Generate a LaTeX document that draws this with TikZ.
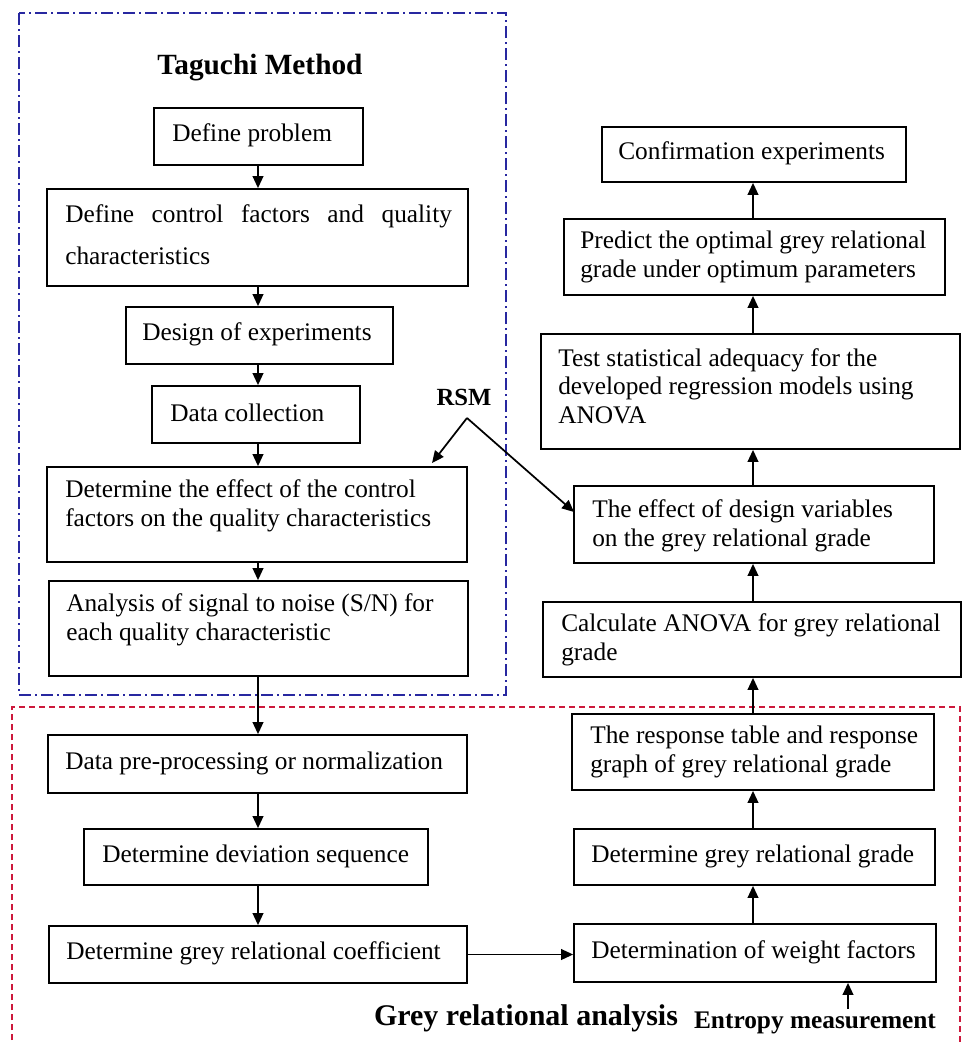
\documentclass[tikz,border=0pt]{standalone}
\usepackage{fontspec}
\setmainfont{Liberation Serif}
\usetikzlibrary{arrows.meta}
\definecolor{tagblue}{RGB}{40,40,160}
\definecolor{grared}{RGB}{205,25,60}
\newcommand\mkbox[5]{\node[boxst, minimum width={(#4-#2)*0.75pt}, minimum height={(#5-#3)*0.75pt}] (#1) at ({(#2+#4)/2},{(#3+#5)/2}) {};}
\begin{document}
\begin{tikzpicture}[x=0.75pt,y=-0.75pt,
  boxst/.style={draw, line width=1.3pt, inner sep=0pt, rectangle},
  txt/.style={anchor=west, align=left, inner sep=0pt, font=\fontsize{19pt}{21.5pt}\selectfont},
  arr/.style={line width=1.3pt, -{Triangle[length=9pt,width=8pt]}},
  heading/.style={font=\bfseries\fontsize{22pt}{26pt}\selectfont, inner sep=2pt},
  bluebox/.style={draw=tagblue, line width=1.4pt, dash pattern=on 9pt off 3pt on 1.5pt off 3pt},
  redbox/.style={draw=grared, line width=1.2pt, dash pattern=on 4.5pt off 3pt}]
\useasboundingbox (0,0) rectangle (967,1042);

% group frames
\draw[bluebox] (19,13) rectangle (506,695);
\draw[redbox] (12,1050) -- (12,707) -- (960,707) -- (960,1050);

% headings
\node[heading] (title) at (260,68) {Taguchi Method};
\node[heading, font=\bfseries\fontsize{22.5pt}{26pt}\selectfont] (gra) at (526,1018) {Grey relational analysis};
\node[heading, font=\bfseries\fontsize{19pt}{22pt}\selectfont] (ent) at (815,1023) {Entropy measurement};
\node[heading, font=\bfseries\fontsize{18.5pt}{22pt}\selectfont] (rsm) at (464,397) {RSM};

% left column boxes
\mkbox{L1}{154}{108}{363}{165}
\mkbox{L2}{47}{189}{468}{286}
\mkbox{L3}{126}{307}{393}{364}
\mkbox{L4}{152}{386}{360}{443}
\mkbox{L5}{47}{467}{467}{562}
\mkbox{L6}{49}{581}{468}{676}
\mkbox{L7}{48}{735}{467}{793}
\mkbox{L8}{84}{829}{428}{885}
\mkbox{L9}{49}{926}{467}{983}

\node[txt] (tL1) at (172,135) {Define problem};
\node[txt, font=\fontsize{19pt}{31.5pt}\selectfont] (tL2) at (65,235) {\makebox[290pt][s]{Define control factors and quality}\\characteristics};
\node[txt] (tL3) at (142,334) {Design of experiments};
\node[txt] (tL4) at (170,413) {Data collection};
\node[txt] (tL5) at (65,506) {Determine the effect of the control\\factors on the quality characteristics};
\node[txt] (tL6) at (66,620) {Analysis of signal to noise (S/N) for\\each quality characteristic};
\node[txt] (tL7) at (65,763) {Data pre-processing or normalization};
\node[txt] (tL8) at (102,856) {Determine deviation sequence};
\node[txt] (tL9) at (66,953) {Determine grey relational coefficient};

% right column boxes
\mkbox{R1}{602}{127}{906}{182}
\mkbox{R2}{564}{219}{945}{295}
\mkbox{R3}{541}{334}{960}{449}
\mkbox{R4}{574}{486}{934}{563}
\mkbox{R5}{543}{602}{961}{677}
\mkbox{R6}{572}{714}{934}{790}
\mkbox{R7}{574}{829}{935}{885}
\mkbox{R8}{574}{924}{936}{982}

\node[txt] (tR1) at (618,153) {Confirmation experiments};
\node[txt] (tR2) at (580,257) {Predict the optimal grey relational\\grade under optimum parameters};
\node[txt] (tR3) at (558,386) {Test statistical adequacy for the\\developed regression models using\\ANOVA};
\node[txt] (tR4) at (592,526) {The effect of design variables\\on the grey relational grade};
\node[txt] (tR5) at (561,640) {Calculate ANOVA for grey relational\\grade};
\node[txt] (tR6) at (590,752) {The response table and response\\graph of grey relational grade};
\node[txt] (tR7) at (591,856) {Determine grey relational grade};
\node[txt] (tR8) at (591,952) {Determination of weight factors};

% connectors
\coordinate (lx) at (258,0);
\coordinate (rx) at (753,0);
\coordinate (ex) at (848,0);
\foreach \a/\b in {L1/L2,L2/L3,L3/L4,L4/L5,L5/L6,L6/L7,L7/L8,L8/L9}
  \draw[arr] (\a.south -| lx) -- (\b.north -| lx);
\foreach \a/\b in {R8/R7,R7/R6,R6/R5,R5/R4,R4/R3,R3/R2,R2/R1}
  \draw[arr] (\a.north -| rx) -- (\b.south -| rx);
\draw[arr] (L9.east) -- (L9.east -| R8.west);
\draw[arr] (ent.north -| ex) -- (R8.south -| ex);

\coordinate (rsmapex) at (467,418);
\coordinate (rsmtipL) at (432,463);
\coordinate (rsmtipR) at (574,512);
\draw[arr] (rsmapex) -- (rsmtipL);
\draw[arr] (rsmapex) -- (rsmtipR);
\end{tikzpicture}
\end{document}
